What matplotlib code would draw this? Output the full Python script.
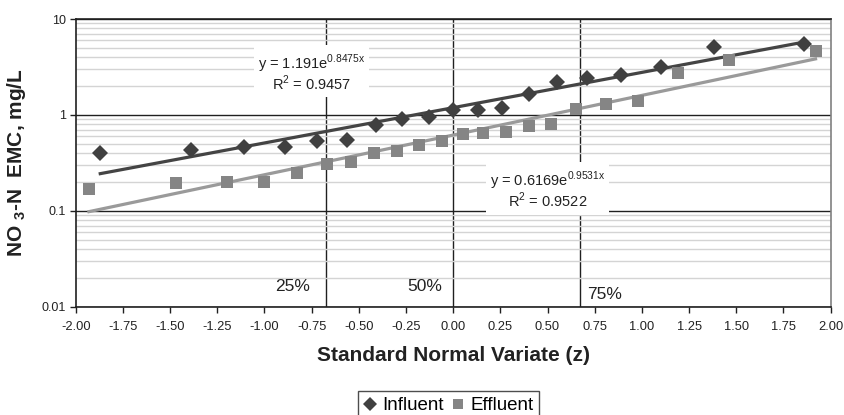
import matplotlib
matplotlib.use("Agg")
import matplotlib.pyplot as plt
import numpy as np
from matplotlib.ticker import NullFormatter, LogLocator

plt.rcParams['font.family'] = ['Liberation Sans', 'DejaVu Sans']
plt.rcParams['mathtext.fontset'] = 'custom'
plt.rcParams['mathtext.rm'] = 'Liberation Sans'
plt.rcParams['mathtext.bf'] = 'Liberation Sans:bold'

# Data
influent_z = [-1.87, -1.39, -1.11, -0.89, -0.72, -0.56, -0.41, -0.27, -0.13, 0.00,
              0.13, 0.26, 0.40, 0.55, 0.71, 0.89, 1.10, 1.38, 1.86]
influent_c = [0.40, 0.43, 0.46, 0.46, 0.54, 0.55, 0.79, 0.91, 0.95, 1.13,
              1.13, 1.19, 1.64, 2.20, 2.45, 2.60, 3.20, 5.10, 5.50]
effluent_z = [-1.93, -1.47, -1.20, -1.00, -0.83, -0.67, -0.54, -0.42, -0.30, -0.18,
              -0.06, 0.05, 0.16, 0.28, 0.40, 0.52, 0.65, 0.81, 0.98, 1.19, 1.46, 1.92]
effluent_c = [0.17, 0.196, 0.20, 0.20, 0.25, 0.31, 0.32, 0.40, 0.42, 0.49,
              0.53, 0.63, 0.65, 0.67, 0.77, 0.81, 1.15, 1.30, 1.40, 2.75, 3.70, 4.60]

# Exponential trend lines (from the equations in the chart)
inf_a, inf_b, inf_r2 = 1.191, 0.8475, 0.9457
eff_a, eff_b, eff_r2 = 0.6169, 0.9531, 0.9522

quartile_z = [-0.674, 0.0, 0.674]
quartile_labels = ['25%', '50%', '75%']

xticks = [-2.00, -1.75, -1.50, -1.25, -1.00, -0.75, -0.50, -0.25, 0.00,
          0.25, 0.50, 0.75, 1.00, 1.25, 1.50, 1.75, 2.00]

fig = plt.figure(figsize=(8.45, 4.15), dpi=100)
ax = fig.add_axes([0.0896, 0.261, 0.983 - 0.0896, 0.954 - 0.261])

ax.set_yscale('log')
ax.set_xlim(-2.0, 2.0)
ax.set_ylim(0.01, 10)

# Grid
ax.yaxis.set_minor_locator(LogLocator(base=10, subs=np.arange(2, 10)))
ax.yaxis.set_minor_formatter(NullFormatter())
ax.grid(True, which='minor', axis='y', color='#d4d4d4', linewidth=1.0, zorder=0)
ax.grid(True, which='major', axis='y', color='#202020', linewidth=1.0, zorder=0.5)
ax.tick_params(axis='y', which='minor', length=0)

for qz in quartile_z:
    ax.axvline(qz, color='#202020', linewidth=1.0, zorder=0.6)

# Trend lines
zi = np.linspace(min(influent_z), max(influent_z), 50)
ze = np.linspace(min(effluent_z), max(effluent_z), 50)
ax.plot(zi, inf_a * np.exp(inf_b * zi), color='#444444', linewidth=2.3, zorder=2)
ax.plot(ze, eff_a * np.exp(eff_b * ze), color='#9a9a9a', linewidth=2.3, zorder=2)

# Data points
ax.plot(influent_z, influent_c, linestyle='none', marker='D', markersize=8.5,
        color='#404040', markeredgewidth=0, label='Influent', zorder=3)
ax.plot(effluent_z, effluent_c, linestyle='none', marker='s', markersize=9,
        color='#858585', markeredgewidth=0, label='Effluent', zorder=3)

# Equations
box = dict(facecolor='white', edgecolor='none', pad=3)
ax.text(-0.75, 2.75,
        'y = 1.191e$^{\\mathregular{0.8475x}}$\nR$^{\\mathregular{2}}$ = %.4f' % inf_r2,
        ha='center', va='center', multialignment='center', linespacing=0.95,
        fontsize=10.5, color='#222222', bbox=box, zorder=4)
ax.text(0.50, 0.165,
        'y = 0.6169e$^{\\mathregular{0.9531x}}$\nR$^{\\mathregular{2}}$ = %.4f' % eff_r2,
        ha='center', va='center', multialignment='center', linespacing=0.95,
        fontsize=10.5, color='#222222', bbox=box, zorder=4)

# Quartile labels
ax.text(-0.85, 0.0162, quartile_labels[0], ha='center', va='center', fontsize=12.5, color='#222222')
ax.text(-0.15, 0.0162, quartile_labels[1], ha='center', va='center', fontsize=12.5, color='#222222')
ax.text(0.80, 0.0134, quartile_labels[2], ha='center', va='center', fontsize=12.5, color='#222222')

# Axes styling
ax.set_xticks(xticks)
ax.set_xticklabels(['%.2f' % t for t in xticks], fontsize=9.3)
ax.set_yticks([0.01, 0.1, 1, 10])
ax.set_yticklabels(['0.01', '0.1', '1', '10'], fontsize=9)
ax.tick_params(axis='both', which='major', direction='out', length=4, width=1,
               color='#202020', pad=3, labelcolor='#222222')
ax.tick_params(axis='x', which='major', pad=6)
for side in ['left', 'bottom', 'top']:
    ax.spines[side].set_color('#202020')
    ax.spines[side].set_linewidth(1.2)
ax.spines['right'].set_color('#808080')
ax.spines['right'].set_linewidth(1.2)

ax.set_xlabel('Standard Normal Variate (z)', fontsize=15, fontweight='bold',
              color='#222222', labelpad=10)
ax.set_ylabel('NO $_{\\mathbf{3}}$-N  EMC, mg/L', fontsize=15, fontweight='bold',
              color='#222222', labelpad=10)

leg = ax.legend(loc='upper center', bbox_to_anchor=(0.494, -0.262), ncol=2,
                frameon=True, fancybox=False, fontsize=13.5, handlelength=0.7,
                handletextpad=0.3, columnspacing=0.4, borderpad=0.3,
                edgecolor='#202020', markerscale=0.8)
leg.get_frame().set_linewidth(1.0)

fig.savefig('out.png', dpi=100)
